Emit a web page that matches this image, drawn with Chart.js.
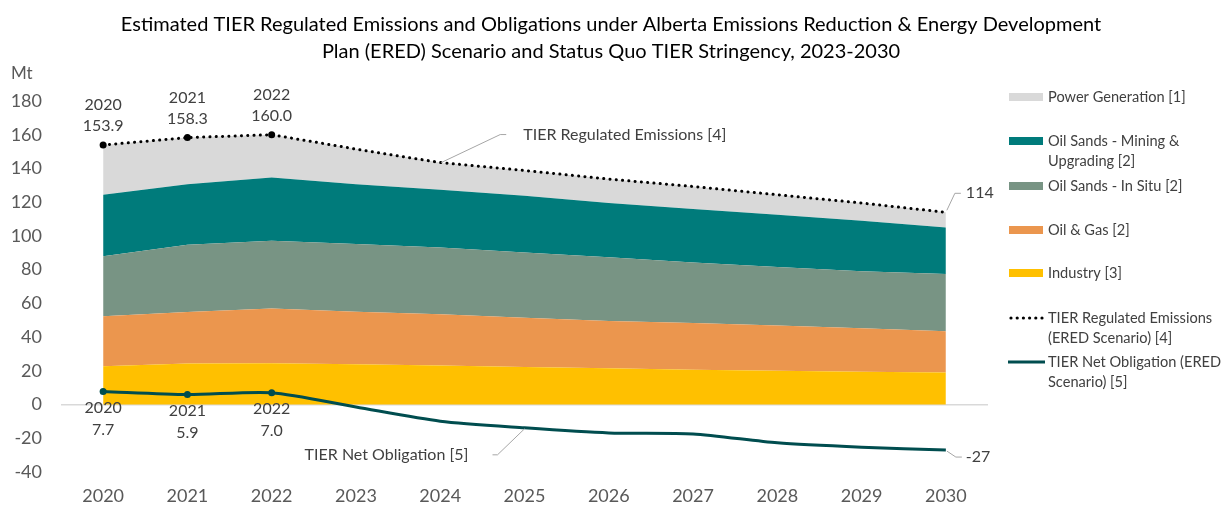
<!DOCTYPE html>
<html>
<head>
<meta charset="utf-8">
<script src="https://cdn.jsdelivr.net/npm/chart.js@4/dist/chart.umd.min.js"></script>
<style>
    html, body { margin: 0; padding: 0; background: #fff; }
    #wrap { width: 1222px; height: 508px; position: relative; }
</style>
</head>
<body>
<div id="wrap"><canvas id="tierChart" width="1222" height="508"></canvas></div>
<script>
// Years and emissions by sector (Mt CO2e)
const years = ['2020', '2021', '2022', '2023', '2024', '2025', '2026', '2027', '2028', '2029', '2030'];
const industry = [22.7, 24.3, 24.5, 23.9, 23.1, 22.3, 21.5, 20.7, 20.1, 19.5, 19.0];
const oilGas = [29.6, 30.6, 32.4, 31.2, 30.4, 29.1, 28.1, 27.7, 26.7, 25.7, 24.4];
const inSitu = [35.7, 39.9, 40.3, 40.1, 39.7, 38.8, 37.7, 35.9, 34.8, 33.8, 34.0];
const mining = [36.4, 35.9, 37.5, 35.5, 34.2, 33.6, 32.2, 31.6, 31.0, 30.0, 27.6];
const power = [29.5, 27.6, 25.3, 20.8, 16.1, 15.0, 14.2, 13.4, 11.8, 10.5, 9.0];
const regulatedTotal = [153.9, 158.3, 160.0, 151.5, 143.5, 138.8, 133.7, 129.3, 124.4, 119.5, 114];
const netObligation = [7.7, 5.9, 7.0, -1.5, -9.9, -13.8, -16.8, -17.4, -22.7, -25.3, -27];
const yTicks = [180, 160, 140, 120, 100, 80, 60, 40, 20, 0, -20, -40];

const titleLines = [
    'Estimated TIER Regulated Emissions and Obligations under Alberta Emissions Reduction & Energy Development',
    'Plan (ERED) Scenario and Status Quo TIER Stringency, 2023-2030'
];

const FONT = 'Lato, "Noto Sans", sans-serif';
const TEXT = '#404040';

const colors = {
    power: '#d9d9d9',
    mining: '#007b7b',
    inSitu: '#789484',
    oilGas: '#eb964e',
    industry: '#ffc000',
    total: '#000000',
    net: '#004d4f'
};

// points shown only on historical years
const histRadius = years.map((y, i) => i < 3 ? 3.5 : 0);

function areaSet(label, data, color, fill) {
    return {
        type: 'line',
        label: label,
        data: data,
        backgroundColor: color,
        borderColor: color,
        borderWidth: 0,
        pointRadius: 0,
        fill: fill,
        stack: 'sectors',
        tension: 0,
        order: 2
    };
}

const legendItems = [
    { kind: 'box', color: colors.power, lines: ['Power Generation [1]'], y: 97 },
    { kind: 'box', color: colors.mining, lines: ['Oil Sands - Mining &', 'Upgrading [2]'], y: 141 },
    { kind: 'box', color: colors.inSitu, lines: ['Oil Sands - In Situ [2]'], y: 186 },
    { kind: 'box', color: colors.oilGas, lines: ['Oil & Gas [2]'], y: 230 },
    { kind: 'box', color: colors.industry, lines: ['Industry [3]'], y: 273 },
    { kind: 'dots', color: colors.total, lines: ['TIER Regulated Emissions', '(ERED Scenario) [4]'], y: 318 },
    { kind: 'line', color: colors.net, lines: ['TIER Net Obligation (ERED', 'Scenario) [5]'], y: 362 }
];

// Title, axis unit, value labels, callouts and legend
const decorations = {
    id: 'decorations',
    afterDraw(chart) {
        const ctx = chart.ctx;
        ctx.save();

        // title
        ctx.fillStyle = '#000';
        ctx.font = '20px ' + FONT;
        ctx.textAlign = 'center';
        ctx.textBaseline = 'middle';
        ctx.fillText(titleLines[0], 611, 25);
        ctx.fillText(titleLines[1], 611, 52);

        // unit
        ctx.fillStyle = '#595959';
        ctx.font = '17px ' + FONT;
        ctx.textAlign = 'left';
        ctx.fillText('Mt', 11, 74);

        const totalMeta = chart.getDatasetMeta(5);
        const netMeta = chart.getDatasetMeta(6);

        ctx.fillStyle = TEXT;
        ctx.font = '16px ' + FONT;
        ctx.textAlign = 'center';

        // historical values
        for (let i = 0; i < 3; i++) {
            const p = totalMeta.data[i];
            ctx.fillText(years[i], p.x, p.y - 40);
            ctx.fillText(regulatedTotal[i].toFixed(1), p.x, p.y - 19);
            const q = netMeta.data[i];
            ctx.fillText(years[i], q.x, q.y + 16);
            ctx.fillText(netObligation[i].toFixed(1), q.x, q.y + 38);
        }

        ctx.strokeStyle = '#a6a6a6';
        ctx.lineWidth = 1;

        // end values
        const pEnd = totalMeta.data[10];
        ctx.beginPath();
        ctx.moveTo(pEnd.x + 1, pEnd.y - 2);
        ctx.lineTo(pEnd.x + 9, pEnd.y - 19);
        ctx.lineTo(pEnd.x + 15, pEnd.y - 19);
        ctx.stroke();
        ctx.textAlign = 'left';
        ctx.fillText(String(regulatedTotal[10]), pEnd.x + 20, pEnd.y - 19);

        const qEnd = netMeta.data[10];
        ctx.beginPath();
        ctx.moveTo(qEnd.x + 1, qEnd.y + 1);
        ctx.lineTo(qEnd.x + 10, qEnd.y + 7);
        ctx.lineTo(qEnd.x + 16, qEnd.y + 7);
        ctx.stroke();
        ctx.fillText(String(netObligation[10]), qEnd.x + 20, qEnd.y + 7);

        // series callouts
        const a = totalMeta.data[4];
        ctx.beginPath();
        ctx.moveTo(a.x + 1, a.y);
        ctx.lineTo(a.x + 60, a.y - 28);
        ctx.lineTo(a.x + 66, a.y - 28);
        ctx.stroke();
        ctx.fillText('TIER Regulated Emissions [4]', a.x + 83, a.y - 28);

        const b = netMeta.data[5];
        ctx.beginPath();
        ctx.moveTo(b.x, b.y + 1);
        ctx.lineTo(b.x - 27, b.y + 27);
        ctx.lineTo(b.x - 32, b.y + 27);
        ctx.stroke();
        ctx.textAlign = 'right';
        ctx.fillText('TIER Net Obligation [5]', b.x - 56, b.y + 27);

        // legend
        ctx.font = '14.6px ' + FONT;
        ctx.textAlign = 'left';
        legendItems.forEach(item => {
            if (item.kind === 'box') {
                ctx.fillStyle = item.color;
                ctx.fillRect(1009, item.y - 4, 34, 8);
            } else if (item.kind === 'dots') {
                ctx.fillStyle = item.color;
                for (let k = 0; k < 6; k++) {
                    ctx.beginPath();
                    ctx.arc(1011 + k * 6.2, item.y, 1.6, 0, Math.PI * 2);
                    ctx.fill();
                }
            } else {
                ctx.strokeStyle = item.color;
                ctx.lineWidth = 3;
                ctx.beginPath();
                ctx.moveTo(1008, item.y);
                ctx.lineTo(1045, item.y);
                ctx.stroke();
            }
            ctx.fillStyle = TEXT;
            item.lines.forEach((t, j) => ctx.fillText(t, 1048, item.y + j * 20));
        });

        ctx.restore();
    }
};

const ctx = document.getElementById('tierChart').getContext('2d');
const chart = new Chart(ctx, {
    data: {
        labels: years,
        datasets: [
            areaSet('Industry [3]', industry, colors.industry, 'origin'),
            areaSet('Oil & Gas [2]', oilGas, colors.oilGas, '-1'),
            areaSet('Oil Sands - In Situ [2]', inSitu, colors.inSitu, '-1'),
            areaSet('Oil Sands - Mining & Upgrading [2]', mining, colors.mining, '-1'),
            areaSet('Power Generation [1]', power, colors.power, '-1'),
            {
                type: 'line',
                label: 'TIER Regulated Emissions (ERED Scenario) [4]',
                data: regulatedTotal,
                borderColor: colors.total,
                backgroundColor: colors.total,
                borderWidth: 3,
                borderDash: [0.1, 6.2],
                borderCapStyle: 'round',
                pointRadius: histRadius,
                pointBorderWidth: 0,
                fill: false,
                stack: 'total',
                tension: 0,
                order: 0
            },
            {
                type: 'line',
                label: 'TIER Net Obligation (ERED Scenario) [5]',
                data: netObligation,
                borderColor: colors.net,
                backgroundColor: colors.net,
                borderWidth: 3,
                pointRadius: histRadius,
                pointBorderWidth: 0,
                fill: false,
                stack: 'net',
                tension: 0.25,
                order: 0
            }
        ]
    },
    options: {
        responsive: false,
        animation: false,
        layout: { padding: { top: 101, right: 234, left: 0, bottom: 0 } },
        plugins: {
            legend: { display: false },
            title: { display: false },
            tooltip: { enabled: false }
        },
        scales: {
            x: {
                offset: true,
                grid: { display: false },
                border: { display: false },
                ticks: {
                    color: '#595959',
                    font: { family: FONT, size: 18 },
                    padding: 5,
                    maxRotation: 0
                },
                afterFit(scale) { scale.height = 36; }
            },
            y: {
                stacked: true,
                min: -40,
                max: 180,
                afterBuildTicks(scale) {
                    scale.ticks = yTicks.map(v => ({ value: v }));
                },
                grid: {
                    drawTicks: false,
                    color: c => c.tick && c.tick.value === 0 ? '#d9d9d9' : 'rgba(0,0,0,0)',
                    lineWidth: 1.5
                },
                border: { display: false },
                ticks: {
                    color: '#595959',
                    font: { family: FONT, size: 18 },
                    padding: 19
                },
                afterFit(scale) { scale.width = 61; }
            }
        }
    },
    plugins: [decorations]
});
</script>
</body>
</html>
